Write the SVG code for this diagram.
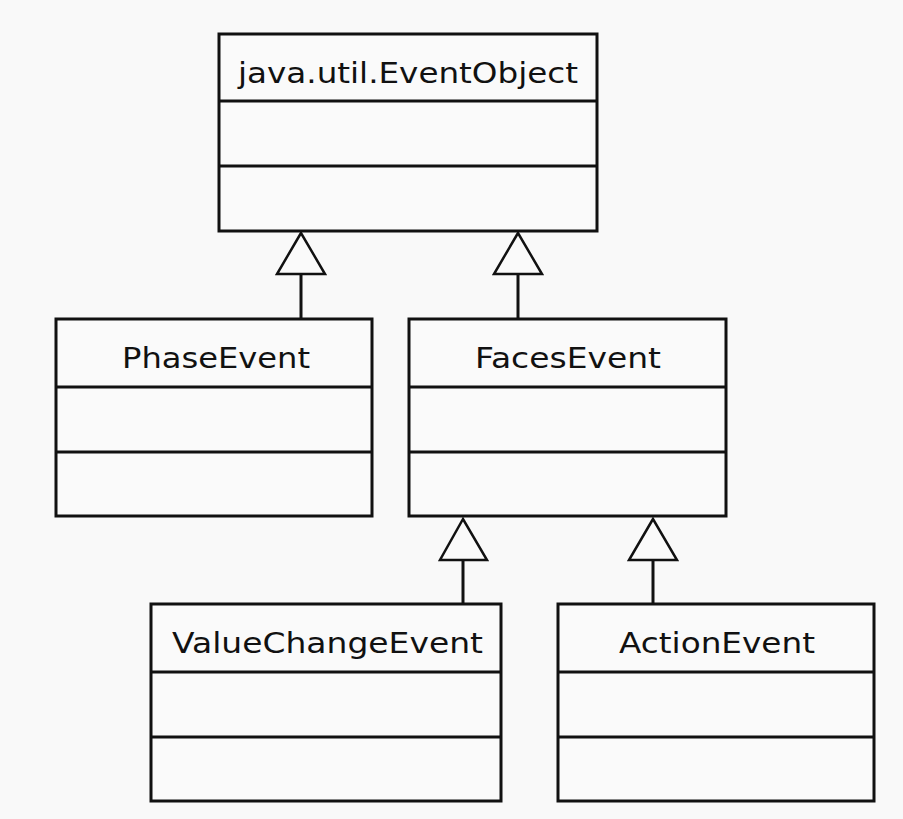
<svg xmlns="http://www.w3.org/2000/svg" width="903" height="819" viewBox="0 0 903 819">
<style>
.box{fill:#fafafa;stroke:#111;stroke-width:3}
.div{stroke:#111;stroke-width:3}
.lbl{font-family:"DejaVu Sans","Liberation Sans",sans-serif;font-size:29px;fill:#111}
.con{stroke:#111;stroke-width:3;fill:none}
.tri{fill:#fafafa;stroke:#111;stroke-width:2.5;stroke-linejoin:miter}
</style>
<rect x="0" y="0" width="903" height="819" fill="#f9f9f9"/>
<g id="connectors">
<line class="con" x1="301" y1="274" x2="301" y2="319"/>
<polygon class="tri" points="301,233 277,274 325,274"/>
<line class="con" x1="518" y1="274" x2="518" y2="319"/>
<polygon class="tri" points="518,233 494,274 542,274"/>
<line class="con" x1="463" y1="560" x2="463" y2="604"/>
<polygon class="tri" points="463,519 440,560 487,560"/>
<line class="con" x1="653" y1="560" x2="653" y2="604"/>
<polygon class="tri" points="653,519 629,560 677,560"/>
</g>
<g id="EventObject">
<rect class="box" x="219" y="34" width="378" height="197"/>
<line class="div" x1="219" y1="101" x2="597" y2="101"/>
<line class="div" x1="219" y1="166" x2="597" y2="166"/>
<text class="lbl" x="238" y="83" textLength="340" lengthAdjust="spacingAndGlyphs">java.util.EventObject</text>
</g>
<g id="PhaseEvent">
<rect class="box" x="56" y="319" width="316" height="197"/>
<line class="div" x1="56" y1="387" x2="372" y2="387"/>
<line class="div" x1="56" y1="452" x2="372" y2="452"/>
<text class="lbl" x="122" y="368" textLength="188" lengthAdjust="spacingAndGlyphs">PhaseEvent</text>
</g>
<g id="FacesEvent">
<rect class="box" x="409" y="319" width="317" height="197"/>
<line class="div" x1="409" y1="387" x2="726" y2="387"/>
<line class="div" x1="409" y1="452" x2="726" y2="452"/>
<text class="lbl" x="475" y="368" textLength="186" lengthAdjust="spacingAndGlyphs">FacesEvent</text>
</g>
<g id="ValueChangeEvent">
<rect class="box" x="151" y="604" width="350" height="197"/>
<line class="div" x1="151" y1="672" x2="501" y2="672"/>
<line class="div" x1="151" y1="737" x2="501" y2="737"/>
<text class="lbl" x="172" y="653" textLength="311" lengthAdjust="spacingAndGlyphs">ValueChangeEvent</text>
</g>
<g id="ActionEvent">
<rect class="box" x="558" y="604" width="316" height="197"/>
<line class="div" x1="558" y1="672" x2="874" y2="672"/>
<line class="div" x1="558" y1="737" x2="874" y2="737"/>
<text class="lbl" x="619" y="653" textLength="196" lengthAdjust="spacingAndGlyphs">ActionEvent</text>
</g>
</svg>
